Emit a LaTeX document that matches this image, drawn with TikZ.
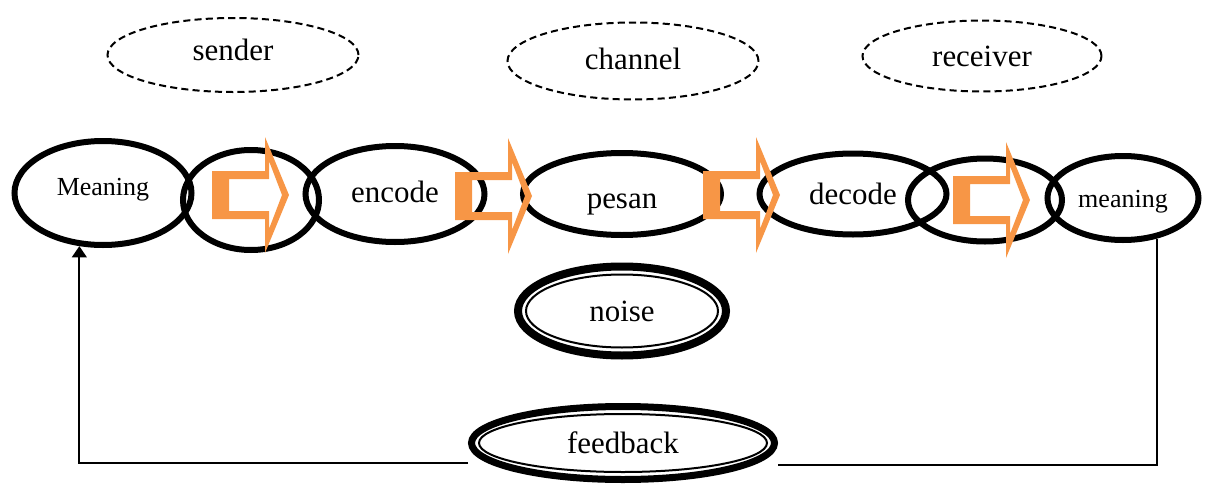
\documentclass[tikz,border=0pt]{standalone}
\usepackage{fontspec}
\setmainfont{Liberation Serif}
\usetikzlibrary{shapes.geometric,arrows.meta}
\definecolor{arroworange}{HTML}{F79646}
\newcommand{\unitpx}{0.025cm}

\tikzset{
  stage/.style={ellipse,draw,line width=6*\unitpx,inner sep=0pt,
    text height=15pt,text depth=0pt,font=\fontsize{22}{26}\selectfont},
  small/.style={text height=13pt,font=\fontsize{18.5}{22}\selectfont},
  role/.style={ellipse,draw,dashed,dash pattern=on 5pt off 3pt,
    line width=2*\unitpx,inner sep=0pt,text height=15pt,text depth=0pt,
    font=\fontsize{22}{26}\selectfont},
  ring/.style={ellipse,draw,inner sep=0pt,text height=15pt,text depth=0pt,
    font=\fontsize{22}{26}\selectfont},
  fbline/.style={draw,line width=2*\unitpx}
}

\begin{document}
\begin{tikzpicture}[x=\unitpx,y=-\unitpx]
\useasboundingbox (0,0) rectangle (1219,487);

% who takes part
\node[role,text depth=7pt,minimum width=251*\unitpx,minimum height=74*\unitpx] (sender) at (233,55) {sender};
\node[role,text depth=3pt,minimum width=251*\unitpx,minimum height=77*\unitpx] (channel) at (633,61) {channel};
\node[role,minimum width=239*\unitpx,minimum height=71*\unitpx] (receiver) at (982,56) {receiver};

% the chain of stages
\node[stage,small,text depth=10pt,minimum width=177*\unitpx,minimum height=104*\unitpx] (meaning1) at (103,193) {Meaning};
\node[stage,minimum width=136*\unitpx,minimum height=100*\unitpx] (sendloop) at (251,200) {};
\node[stage,text depth=3pt,minimum width=179*\unitpx,minimum height=96*\unitpx] (enc) at (395,194) {encode};
\node[stage,text height=20pt,minimum width=198*\unitpx,minimum height=82*\unitpx] (pesan) at (622,194) {pesan};
\node[stage,minimum width=187*\unitpx,minimum height=81*\unitpx] (dec) at (853,194) {decode};
\node[stage,minimum width=154*\unitpx,minimum height=83*\unitpx] (recvloop) at (985,200) {};
\node[stage,small,minimum width=151*\unitpx,minimum height=84*\unitpx] (meaning2) at (1123,198) {meaning};

% hollow block arrows
\foreach \ax/\ay in {212/195,455/196,703/195,953/200}
  \fill[arroworange,even odd rule,shift={(\ax,\ay)}]
    (0,-24) -- (53,-24) -- (53,-58) -- (77,0) -- (53,58) -- (53,24) -- (0,24) -- cycle
    (17,-16) -- (57,-16) -- (57,-34) -- (70,0) -- (57,34) -- (57,16) -- (17,16) -- cycle;

% noise and feedback
\node[ring,line width=8*\unitpx,minimum width=208*\unitpx,minimum height=89*\unitpx] (noise) at (622,311) {noise};
\node[ring,line width=2*\unitpx,minimum width=192*\unitpx,minimum height=73*\unitpx] (noise-in) at (noise.center) {};
\node[ring,line width=7*\unitpx,minimum width=303*\unitpx,minimum height=73*\unitpx] (feedback) at (623,443) {feedback};
\node[ring,line width=2*\unitpx,minimum width=288*\unitpx,minimum height=58*\unitpx] (feedback-in) at (feedback.center) {};

% feedback loop
\draw[fbline,-{Triangle[length=8pt,width=10.5pt]}] (feedback.west) ++(0,20) -| (meaning1.246);
\draw[fbline] (feedback.east) ++(0,22) -| (meaning2.310);
\end{tikzpicture}
\end{document}
